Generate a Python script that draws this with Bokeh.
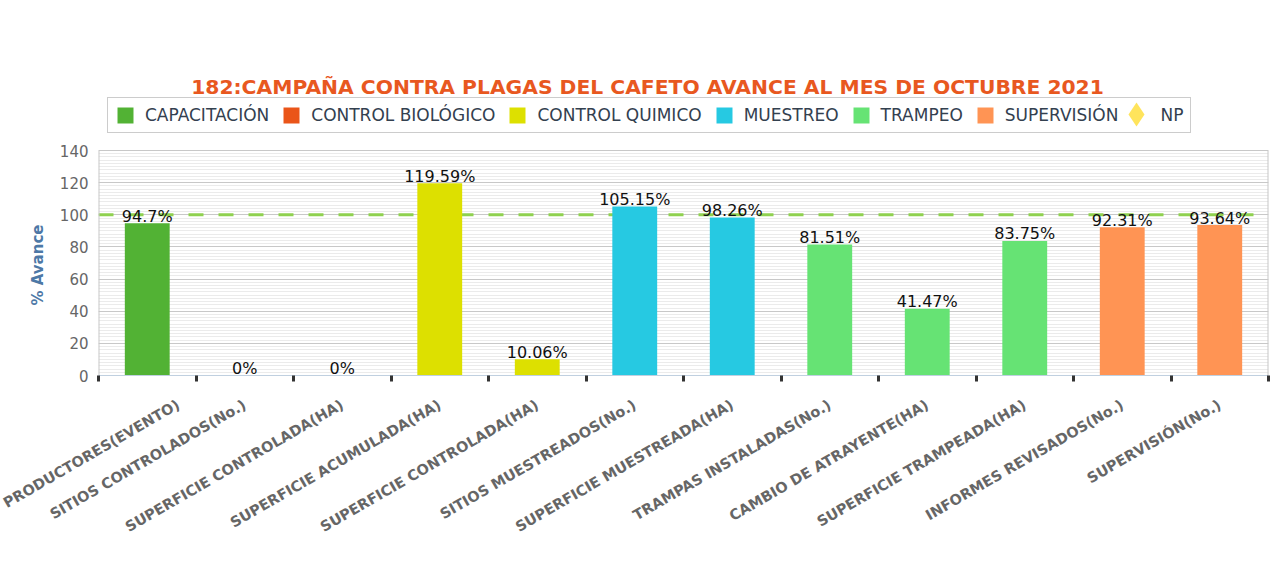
import math
from bokeh.plotting import figure
from bokeh.models import (Range1d, FixedTicker, Span, Legend, LegendItem, Label, Title)
from bokeh.core.properties import value
from bokeh.embed import file_html
from bokeh.resources import INLINE

# ---------------- data ----------------
title_text = "182:CAMPAÑA CONTRA PLAGAS DEL CAFETO AVANCE AL MES DE OCTUBRE 2021"
categories = [
    "PRODUCTORES(EVENTO)",
    "SITIOS CONTROLADOS(No.)",
    "SUPERFICIE CONTROLADA(HA)",
    "SUPERFICIE ACUMULADA(HA)",
    "SUPERFICIE CONTROLADA(HA)",
    "SITIOS MUESTREADOS(No.)",
    "SUPERFICIE MUESTREADA(HA)",
    "TRAMPAS INSTALADAS(No.)",
    "CAMBIO DE ATRAYENTE(HA)",
    "SUPERFICIE TRAMPEADA(HA)",
    "INFORMES REVISADOS(No.)",
    "SUPERVISIÓN(No.)",
]
values = [94.7, 0, 0, 119.59, 10.06, 105.15, 98.26, 81.51, 41.47, 83.75, 92.31, 93.64]
value_labels = ["94.7%", "0%", "0%", "119.59%", "10.06%", "105.15%", "98.26%",
                "81.51%", "41.47%", "83.75%", "92.31%", "93.64%"]
groups = ["CAPACITACIÓN", "CONTROL BIOLÓGICO", "CONTROL BIOLÓGICO",
          "CONTROL QUIMICO", "CONTROL QUIMICO", "MUESTREO", "MUESTREO",
          "TRAMPEO", "TRAMPEO", "TRAMPEO", "SUPERVISIÓN", "SUPERVISIÓN"]
series = ["CAPACITACIÓN", "CONTROL BIOLÓGICO", "CONTROL QUIMICO",
          "MUESTREO", "TRAMPEO", "SUPERVISIÓN"]
series_colors = ["#52b234", "#ea5519", "#dde000", "#26c9e2", "#66e374", "#ff9454"]
np_label = "NP"
np_color = "#ffe45c"
target = 100
y_ticks_interval = 20
y_minor_interval = 2
y_max = 140
y_axis_label = "% Avance"

# ---------------- layout constants (pixels) ----------------
W, H = 1270, 549
LEFT, RIGHT = 98, 2
FRAME_TOP = 60          # frame also hosts title + legend area
PLOT_TOP = 150          # pixel row of y_max
PLOT_BOTTOM = 375       # pixel row of 0
n = len(categories)
centers = [i + 0.5 for i in range(n)]
px_per_unit = (PLOT_BOTTOM - PLOT_TOP) / y_max
y_end = y_max + (PLOT_TOP - FRAME_TOP) / px_per_unit
frame_w = W - LEFT - RIGHT
px_per_cat = frame_w / n

p = figure(width=W, height=H,
           x_range=Range1d(0, n), y_range=Range1d(0, y_end),
           output_backend="svg", toolbar_location=None,
           min_border_left=LEFT, min_border_right=RIGHT, min_border_top=FRAME_TOP,
           min_border_bottom=H - PLOT_BOTTOM, background_fill_color="white",
           border_fill_color="white")
p.outline_line_color = None

# y axis
yt = FixedTicker(ticks=list(range(0, y_max + 1, y_ticks_interval)),
                 minor_ticks=list(range(0, y_max + 1, y_minor_interval)))
p.yaxis.ticker = yt
p.ygrid.ticker = yt
p.yaxis.major_label_text_font = "DejaVu Sans"
p.yaxis.major_label_text_font_size = "15px"
p.yaxis.major_label_text_color = "#666666"
p.yaxis.major_label_standoff = 10
p.yaxis.major_tick_out = 0
p.yaxis.major_tick_in = 0
p.yaxis.minor_tick_out = 0
p.yaxis.minor_tick_in = 0
p.yaxis.axis_line_color = None
p.ygrid.grid_line_color = "#c8c8c8"
p.ygrid.minor_grid_line_color = "#ebebeb"

ytitle = Title(text=y_axis_label, align="left", offset=70, standoff=19,
               text_font="DejaVu Sans", text_font_size="15px",
               text_font_style="bold", text_color="#4d78a6")
p.add_layout(ytitle, "left")

# x axis
p.xaxis.ticker = FixedTicker(ticks=centers, minor_ticks=list(range(n + 1)))
p.xaxis.major_label_overrides = {c: lab for c, lab in zip(centers, categories)}
p.xaxis.major_label_orientation = math.radians(30)
p.xaxis.major_label_text_font = "DejaVu Sans"
p.xaxis.major_label_text_font_size = "14.5px"
p.xaxis.major_label_text_font_style = "bold"
p.xaxis.major_label_text_color = "#666666"
p.xaxis.major_label_standoff = 22
p.xaxis.major_tick_out = 0
p.xaxis.major_tick_in = 0
p.xaxis.minor_tick_out = 6
p.xaxis.minor_tick_in = 0
p.xaxis.minor_tick_line_width = 3
p.xaxis.minor_tick_line_color = "#333333"
p.xaxis.axis_line_color = "#c0d0e0"
p.xgrid.visible = False

# plot-area side borders
p.segment(x0=[0, n], y0=[0, 0], x1=[0, n], y1=[y_max, y_max],
          line_color="#c8c8c8", line_width=2)

# target line
p.add_layout(Span(location=target, dimension="width", line_color="#8fd14f",
                  line_width=3, line_dash="15 15", level="underlay"))

# bars
items = []
for s, c in zip(series, series_colors):
    xs = [centers[i] for i, g in enumerate(groups) if g == s]
    tops = [values[i] for i, g in enumerate(groups) if g == s]
    r = p.vbar(x=xs, top=tops, width=0.46, fill_color=c, line_color=None)
    items.append(LegendItem(label=s, renderers=[r]))

# NP: placeholder in main legend, diamond drawn by a second (borderless) legend
rn_hidden = p.scatter(x=[0], y=[-50], marker="diamond", fill_alpha=0, line_alpha=0)
items.append(LegendItem(label=np_label, renderers=[rn_hidden]))
rn = p.scatter(x=[0], y=[-50], marker="diamond", fill_color=np_color, line_color=None)

# value labels
p.text(x=centers, y=values, text=value_labels, text_align="center",
       text_baseline="alphabetic", y_offset=-7,
       text_font=value("DejaVu Sans"), text_font_size="16px", text_color="#111111")

legend = Legend(items=items, orientation="horizontal",
                location=(107 - LEFT, PLOT_BOTTOM - 133),
                margin=0, padding=7, spacing=12, label_standoff=10,
                glyph_width=20, glyph_height=20,
                label_text_font="DejaVu Sans", label_text_font_size="17px",
                label_text_color="#33404f",
                border_line_color="#999999", border_line_width=1.5,
                background_fill_color="white", background_fill_alpha=1)
p.add_layout(legend)

legend_np = Legend(items=[LegendItem(label=" ", renderers=[rn])],
                   orientation="horizontal",
                   location=(1136 - 30 - LEFT, PLOT_BOTTOM - 114 - 30),
                   margin=0, padding=0, glyph_width=60, glyph_height=60,
                   border_line_color=None, background_fill_alpha=0,
                   label_text_font_size="1px")
p.add_layout(legend_np)

# title (inside the extended frame, above the legend)
title_y = (PLOT_BOTTOM - 86) / px_per_unit
title_x = (647 - LEFT) / px_per_cat
p.add_layout(Label(x=title_x, y=title_y, text=title_text, text_align="center",
                   text_baseline="alphabetic", text_font="DejaVu Sans",
                   text_font_size="20.3px", text_font_style="bold",
                   text_color="#e8581f"))

open("out.html", "w").write(file_html(p, INLINE))
